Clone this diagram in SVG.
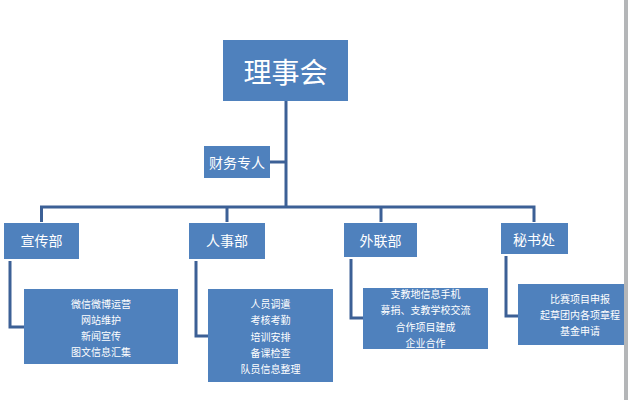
<svg xmlns="http://www.w3.org/2000/svg" width="628" height="400" viewBox="0 0 628 400">
<style>
.box{fill:#4f81bd}
.t{fill:#ffffff;font-family:"Noto Sans CJK SC","Noto Sans",sans-serif;text-anchor:middle;dominant-baseline:central}
.s{font-size:10px}
.d{font-size:14px}
.c{fill:none;stroke:#3c6096;stroke-width:3}
</style>
<rect width="628" height="400" fill="#ffffff"/>
<g id="connectors">
<path class="c" d="M286 101V207"/>
<path class="c" d="M270 162H286"/>
<path class="c" d="M41.5 222V207H534V222"/>
<path class="c" d="M227 207V222"/>
<path class="c" d="M381 207V222"/>
<path class="c" d="M10 261V327H24"/>
<path class="c" d="M196 261V336H208"/>
<path class="c" d="M351 259V318H363"/>
<path class="c" d="M506 256V316H518"/>
</g>
<g id="board"><rect class="box" x="223" y="40" width="125" height="61"/><text class="t" x="285.5" y="71" font-size="28">理事会</text></g>
<g id="finance"><rect class="box" x="204" y="146" width="66" height="32"/><text class="t d" x="237" y="162" font-size="13">财务专人</text></g>
<g id="publicity"><rect class="box" x="4" y="223" width="75" height="36"/><text class="t d" x="41.5" y="240">宣传部</text></g>
<g id="hr"><rect class="box" x="189" y="223" width="76" height="36"/><text class="t d" x="227" y="240">人事部</text></g>
<g id="liaison"><rect class="box" x="344" y="223" width="73" height="34"/><text class="t d" x="380.5" y="240">外联部</text></g>
<g id="secretariat"><rect class="box" x="501" y="223" width="67" height="31"/><text class="t d" x="534" y="239">秘书处</text></g>
<g id="publicity-tasks"><rect class="box" x="24" y="289" width="154" height="75"/>
<text class="t s" x="101" y="303">微信微博运营</text><text class="t s" x="101" y="319">网站维护</text><text class="t s" x="101" y="335">新闻宣传</text><text class="t s" x="101" y="351">图文信息汇集</text></g>
<g id="hr-tasks"><rect class="box" x="208" y="289" width="125" height="93"/>
<text class="t s" x="270.5" y="303">人员调遣</text><text class="t s" x="270.5" y="319.5">考核考勤</text><text class="t s" x="270.5" y="336">培训安排</text><text class="t s" x="270.5" y="352">备课检查</text><text class="t s" x="270.5" y="368">队员信息整理</text></g>
<g id="liaison-tasks"><rect class="box" x="363" y="288" width="125" height="61"/>
<text class="t s" x="425.5" y="293">支教地信息手机</text><text class="t s" x="425.5" y="309.5">募捐、支教学校交流</text><text class="t s" x="425.5" y="326">合作项目建成</text><text class="t s" x="425.5" y="342">企业合作</text></g>
<g id="secretariat-tasks"><rect class="box" x="518" y="284" width="124" height="61"/>
<text class="t s" x="580" y="298">比赛项目申报</text><text class="t s" x="580" y="314">起草团内各项章程</text><text class="t s" x="580" y="330">基金申请</text></g>
<rect x="624" y="0" width="4" height="400" fill="#b4b6b8"/>
</svg>
